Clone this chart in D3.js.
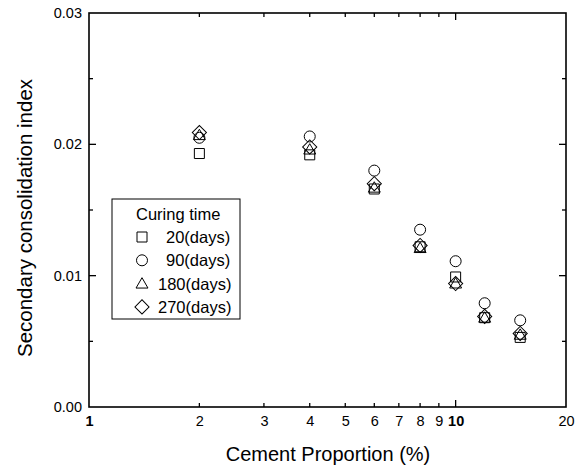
<!DOCTYPE html>
<html>
<head>
<meta charset="utf-8">
<script src="https://cdn.jsdelivr.net/npm/d3@7"></script>
<style>
  body { margin: 0; background: #fff; }
  svg { font-family: Arial, "Liberation Sans", sans-serif; }
</style>
</head>
<body>
<div id="chart"></div>
<script>
"use strict";

// cement proportion (%)
var cement = [2, 4, 6, 8, 10, 12, 15];
// secondary consolidation index per curing time
var days20  = [0.0193, 0.0192, 0.0166, 0.0122, 0.0099, 0.0068, 0.0053];
var days90  = [0.0205, 0.0206, 0.0180, 0.0135, 0.0111, 0.0079, 0.0066];
var days180 = [0.0207, 0.0196, 0.0167, 0.0121, 0.0094, 0.0068, 0.0055];
var days270 = [0.0209, 0.0198, 0.0170, 0.0123, 0.0094, 0.0069, 0.0056];
var seriesNames = ["20(days)", "90(days)", "180(days)", "270(days)"];
var xTicks = [1, 2, 3, 4, 5, 6, 7, 8, 9, 10, 20];
var yTicks = [0, 0.01, 0.02, 0.03];
var yMinor = [0.005, 0.015, 0.025];

var W = 584, H = 470,
  margin = {top: 13, right: 18, bottom: 63, left: 89},
  width = W - margin.left - margin.right,
  height = H - margin.top - margin.bottom;

var svg = d3.select("#chart").append("svg").attr("width", W).attr("height", H),
  g = svg.append("g").attr("transform", "translate(" + margin.left + "," + margin.top + ")"),
  x = d3.scaleLog().domain([1, 20]).range([0, width]),
  y = d3.scaleLinear().domain([0, 0.03]).range([height, 0]);

// frame
g.append("rect")
  .attr("width", width).attr("height", height)
  .attr("fill", "none").attr("stroke", "#000").attr("stroke-width", 1.6);

var isMajorX = function(d) { return d === 1 || d === 10 || d === 20; };

// x axis ticks (bottom, inside)
g.append("g")
  .attr("transform", "translate(0," + height + ")")
  .call(d3.axisBottom(x).tickValues(xTicks).tickSize(0).tickPadding(9).tickFormat(d3.format("d")))
  .call(function(a) {
    a.select(".domain").remove();
    a.selectAll("text").attr("font-size", 14.5).attr("fill", "#000")
      .attr("font-family", "Arial, 'Liberation Sans', sans-serif")
      .attr("font-weight", function(d) { return (d === 1 || d === 10) ? "bold" : "normal"; });
  });

var xt = xTicks.filter(function(d) { return d > 1 && d < 20; });
[height, 0].forEach(function(yy, i) {
  var dir = i === 0 ? -1 : 1;
  g.append("g").selectAll("line").data(xt).enter().append("line")
    .attr("x1", function(d) { return x(d); }).attr("x2", function(d) { return x(d); })
    .attr("y1", yy).attr("y2", function(d) { return yy + dir * (isMajorX(d) ? 7 : 4); })
    .attr("stroke", "#000").attr("stroke-width", 1.3);
});

// y axis
g.append("g")
  .call(d3.axisLeft(y).tickValues(yTicks).tickSize(0).tickPadding(7).tickFormat(d3.format(".2f")))
  .call(function(a) {
    a.select(".domain").remove();
    a.selectAll("text").attr("font-size", 14.5).attr("fill", "#000")
      .attr("font-family", "Arial, 'Liberation Sans', sans-serif");
  });

[0, width].forEach(function(xx, i) {
  var dir = i === 0 ? 1 : -1;
  g.append("g").selectAll("line").data(yTicks.slice(1, 3)).enter().append("line")
    .attr("x1", xx).attr("x2", xx + dir * 7)
    .attr("y1", function(d) { return y(d); }).attr("y2", function(d) { return y(d); })
    .attr("stroke", "#000").attr("stroke-width", 1.3);
  g.append("g").selectAll("line").data(yMinor).enter().append("line")
    .attr("x1", xx).attr("x2", xx + dir * 4)
    .attr("y1", function(d) { return y(d); }).attr("y2", function(d) { return y(d); })
    .attr("stroke", "#000").attr("stroke-width", 1.3);
});

// axis titles
svg.append("text")
  .attr("x", 328).attr("y", 461)
  .attr("text-anchor", "middle").attr("font-size", 20)
  .text("Cement Proportion (%)");

svg.append("text")
  .attr("transform", "translate(32," + (margin.top + height / 2 + 8) + ") rotate(-90)")
  .attr("text-anchor", "middle").attr("font-size", 20.5)
  .text("Secondary consolidation index");

// markers
var symbols = [d3.symbolSquare, d3.symbolCircle, d3.symbolTriangle, d3.symbolSquare],
  sizes = [100, 95, 62, 100],
  series = [days20, days90, days180, days270];

function marker(sel, i) {
  sel.attr("d", d3.symbol().type(symbols[i]).size(sizes[i])())
    .attr("fill", "none").attr("stroke", "#000").attr("stroke-width", 1);
}

function place(px, py, i) {
  var dy = i === 2 ? 1 : 0;
  return "translate(" + px + "," + (py + dy) + ")" + (i === 3 ? " rotate(45)" : "");
}

series.forEach(function(vals, i) {
  g.append("g").selectAll("path").data(vals).enter().append("path")
    .attr("transform", function(d, j) { return place(x(cement[j]), y(d), i); })
    .call(marker, i);
});

// legend
var leg = svg.append("g").attr("transform", "translate(112,199)");
leg.append("rect").attr("width", 128).attr("height", 120)
  .attr("fill", "#fff").attr("stroke", "#000").attr("stroke-width", 1);
leg.append("text").attr("x", 24).attr("y", 21).attr("font-size", 16.5).text("Curing time");
seriesNames.forEach(function(name, i) {
  var cy = 38 + i * 23.3;
  leg.append("path")
    .attr("transform", place(30, cy, i))
    .call(marker, i);
  leg.append("text").attr("x", name.length < 9 ? 54 : 46).attr("y", cy + 6)
    .attr("font-size", 16.5).text(name);
});
</script>
</body>
</html>
